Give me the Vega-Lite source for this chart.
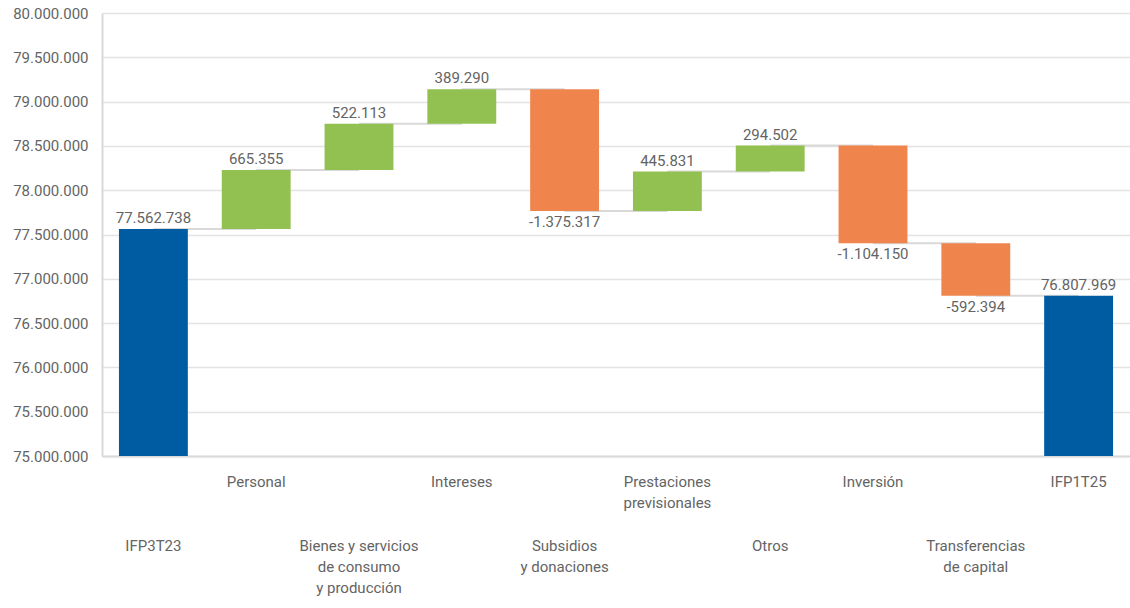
{
  "$schema": "https://vega.github.io/schema/vega-lite/v6.json",
  "width": 1028,
  "height": 443,
  "autosize": {"type": "none"},
  "padding": {"left": 102, "top": 13, "right": 0, "bottom": 152},
  "background": "white",
  "config": {
    "locale": {
      "number": {"decimal": ",", "thousands": ".", "grouping": [3], "currency": ["", ""], "minus": "-"}
    },
    "view": {"stroke": null},
    "font": "Roboto"
  },
  "data": {
    "values": [
      {"cat": "IFP3T23", "kind": "total", "start": 75000000, "end": 77562738, "amount": 77562738, "next": "Personal"},
      {"cat": "Personal", "kind": "increase", "start": 77562738, "end": 78228093, "amount": 665355, "next": "Bienes y servicios de consumo y producción"},
      {"cat": "Bienes y servicios de consumo y producción", "kind": "increase", "start": 78228093, "end": 78750206, "amount": 522113, "next": "Intereses"},
      {"cat": "Intereses", "kind": "increase", "start": 78750206, "end": 79139496, "amount": 389290, "next": "Subsidios y donaciones"},
      {"cat": "Subsidios y donaciones", "kind": "decrease", "start": 79139496, "end": 77764179, "amount": -1375317, "next": "Prestaciones previsionales"},
      {"cat": "Prestaciones previsionales", "kind": "increase", "start": 77764179, "end": 78210010, "amount": 445831, "next": "Otros"},
      {"cat": "Otros", "kind": "increase", "start": 78210010, "end": 78504512, "amount": 294502, "next": "Inversión"},
      {"cat": "Inversión", "kind": "decrease", "start": 78504512, "end": 77400362, "amount": -1104150, "next": "Transferencias de capital"},
      {"cat": "Transferencias de capital", "kind": "decrease", "start": 77400362, "end": 76807969, "amount": -592394, "next": "IFP1T25"},
      {"cat": "IFP1T25", "kind": "total", "start": 75000000, "end": 76807969, "amount": 76807969, "next": null}
    ]
  },
  "encoding": {
    "x": {
      "field": "cat",
      "type": "nominal",
      "sort": null,
      "scale": {"paddingInner": 0, "paddingOuter": 0},
      "axis": {
        "title": null,
        "labelAngle": 0,
        "ticks": false,
        "domain": true,
        "domainColor": "#d9d9d9",
        "domainWidth": 2,
        "labelPadding": {
          "condition": {"test": "indexof(['IFP3T23', 'Bienes y servicios de consumo y producción', 'Subsidios y donaciones', 'Otros', 'Transferencias de capital'], datum.value) >= 0", "value": 82},
          "value": 18
        },
        "labelFontSize": 15,
        "labelColor": "#646464",
        "labelLineHeight": 21.3,
        "labelBaseline": "top",
        "labelOverlap": false,
        "labelBound": false,
        "labelLimit": 300,
        "labelExpr": "datum.value == 'Bienes y servicios de consumo y producción' ? ['Bienes y servicios', 'de consumo', 'y producción'] : datum.value == 'Subsidios y donaciones' ? ['Subsidios', 'y donaciones'] : datum.value == 'Transferencias de capital' ? ['Transferencias', 'de capital'] : datum.value == 'Prestaciones previsionales' ? ['Prestaciones', 'previsionales'] : datum.label"
      }
    },
    "y": {
      "field": "end",
      "type": "quantitative",
      "scale": {"domain": [75000000, 80000000], "zero": false, "nice": false},
      "axis": {
        "title": null,
        "values": [75000000, 75500000, 76000000, 76500000, 77000000, 77500000, 78000000, 78500000, 79000000, 79500000, 80000000],
        "format": ",.0f",
        "ticks": false,
        "domain": true,
        "domainColor": "#d9d9d9",
        "domainWidth": 2,
        "grid": true,
        "gridColor": "#e3e3e3",
        "gridWidth": 1.5,
        "labelPadding": 14,
        "labelFontSize": 15,
        "labelColor": "#646464"
      }
    }
  },
  "layer": [
    {
      "transform": [{"filter": "isValid(datum.next)"}],
      "mark": {"type": "rule", "color": "#d9d9d9", "strokeWidth": 2},
      "encoding": {
        "x2": {"field": "next"}
      }
    },
    {
      "mark": {"type": "bar", "width": {"band": 0.67}},
      "encoding": {
        "y2": {"field": "start"},
        "color": {
          "field": "kind",
          "type": "nominal",
          "scale": {"domain": ["total", "increase", "decrease"], "range": ["#005CA2", "#92C152", "#EF844D"]},
          "legend": null
        }
      }
    },
    {
      "transform": [{"filter": "datum.kind != 'decrease'"}],
      "mark": {"type": "text", "baseline": "bottom", "dy": -3, "fontSize": 15, "color": "#646464"},
      "encoding": {
        "text": {"field": "amount", "type": "quantitative", "format": ",.0f"}
      }
    },
    {
      "transform": [{"filter": "datum.kind == 'decrease'"}],
      "mark": {"type": "text", "baseline": "top", "dy": 4, "fontSize": 15, "color": "#646464"},
      "encoding": {
        "text": {"field": "amount", "type": "quantitative", "format": ",.0f"}
      }
    }
  ]
}
